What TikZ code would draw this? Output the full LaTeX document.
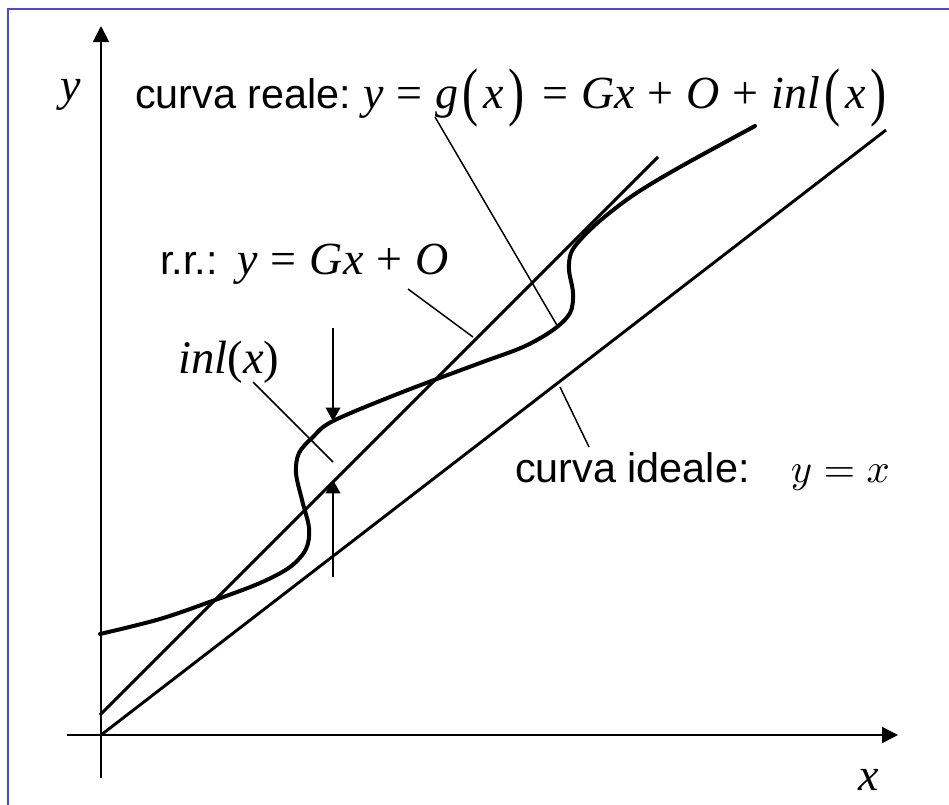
\documentclass[tikz,border=0pt]{standalone}
\usepackage{fontspec}
\setmainfont{Liberation Sans}
\newfontfamily\timesf{Liberation Serif}
\usepackage{graphicx}
\definecolor{frameBlue}{HTML}{4B4BD2}
\usetikzlibrary{arrows.meta, positioning, calc}
\newcommand{\fml}[1]{{\fontsize{34.5}{40}\selectfont #1}}
\newcommand{\mv}[1]{{\timesf\itshape #1}}
\newcommand{\mo}[1]{\hspace{0.28em}{\timesf #1}\hspace{0.28em}}
\newcommand{\bp}[1]{\hspace{0.1em}\raisebox{-0.12em}{\scalebox{1.05}[1.4]{\timesf #1}}\hspace{0.1em}}

\begin{document}
\begin{tikzpicture}[x=0.75pt, y=-0.75pt,
  axis/.style={line width=1.5pt, -{Triangle[length=12pt, width=12pt]}},
  fitline/.style={line width=2.2pt},
  realcurve/.style={line width=3pt, line cap=round},
  guide/.style={line width=1.1pt},
  gaparr/.style={line width=1.1pt, -{Triangle[length=10pt, width=11pt]}},
  lbl/.style={anchor=base west, inner sep=0pt, font=\fontsize{31}{36}\selectfont},
  varlbl/.style={anchor=base, inner sep=0pt, font=\fontsize{34.5}{40}\selectfont}]

  \useasboundingbox (0,0) rectangle (949,804);
  \draw[frameBlue, line width=1.5pt] (8,820) -- (8,9) -- (960,9);

  % axes
  \coordinate (orig) at (101,735);
  \coordinate (ybot) at (101,778);
  \coordinate (ytip) at (101,26);
  \coordinate (xleft) at (67,735);
  \coordinate (xtip) at (898,735);
  \draw[axis] (ybot) -- (ytip);
  \draw[axis] (xleft) -- (xtip);
  \node[varlbl] (ylab) at (71,100) {\mv{y}};
  \node[varlbl] (xlab) at (869,790) {\mv{x}};

  % ideal line and straight fit
  \coordinate (idealend) at (886,130);
  \coordinate (rrstart) at (100,715);
  \coordinate (rrend) at (658,157);
  \draw[fitline] (orig) -- (idealend);
  \draw[fitline] (rrstart) -- (rrend);

  % real curve
  \draw[realcurve] plot[smooth, tension=0.55] coordinates {
    (100,634) (160,619) (215,600) (260,583) (290,567) (306,549) (309,528)
    (302,500) (296,473) (299,453) (313,437) (333,421) (400,393) (480,363)
    (523,347) (553,330) (570,313) (573,293) (569,270) (571,253) (581,239)
    (602,219) (635,194) (680,167) (755,126)};

  % labels
  \node[lbl] (reale) at (135,108) {curva reale:\hspace{9pt}\fml{\mv{y}\mo{=}\mv{g}\bp{(}\mv{x}\bp{)}\mo{=}\mv{Gx}\mo{+}\mv{O}\mo{+}\mv{inl}\bp{(}\mv{x}\bp{)}}};
  \node[lbl] (rr) at (160,274) {r.r.:\hspace{15pt}\fml{\mv{y}\mo{=}\mv{Gx}\mo{+}\mv{O}}};
  \node[lbl, font=\fontsize{35}{40}\selectfont] (inl) at (178,373) {\mv{inl}{\timesf(}\mv{x}{\timesf)}};
  \node[lbl] (ideale) at (515,482) {curva ideale:\hspace{31pt}{\fontsize{10}{12}\selectfont\scalebox{3.05}{$y = x$}}};

  % leaders
  \coordinate (realfoot) at (435,117);
  \coordinate (realpt) at (558,327);
  \coordinate (rrfoot) at (408,289);
  \coordinate (rrpt) at (473,337);
  \coordinate (inlfoot) at (253,382);
  \coordinate (inlpt) at (333,462);
  \coordinate (idealpt) at (560,387);
  \coordinate (idealfoot) at (589,447);
  \draw[guide] (realfoot) -- (realpt);
  \draw[guide] (rrfoot) -- (rrpt);
  \draw[guide] (inlfoot) -- (inlpt);
  \draw[guide] (idealpt) -- (idealfoot);

  % inl(x) gap
  \coordinate (gtop) at (333,328);
  \coordinate (gcurve) at (333,421);
  \coordinate (gline) at (333,480);
  \coordinate (gbot) at (333,577);
  \draw[gaparr] (gtop) -- (gcurve);
  \draw[gaparr] (gbot) -- (gline);
\end{tikzpicture}
\end{document}
